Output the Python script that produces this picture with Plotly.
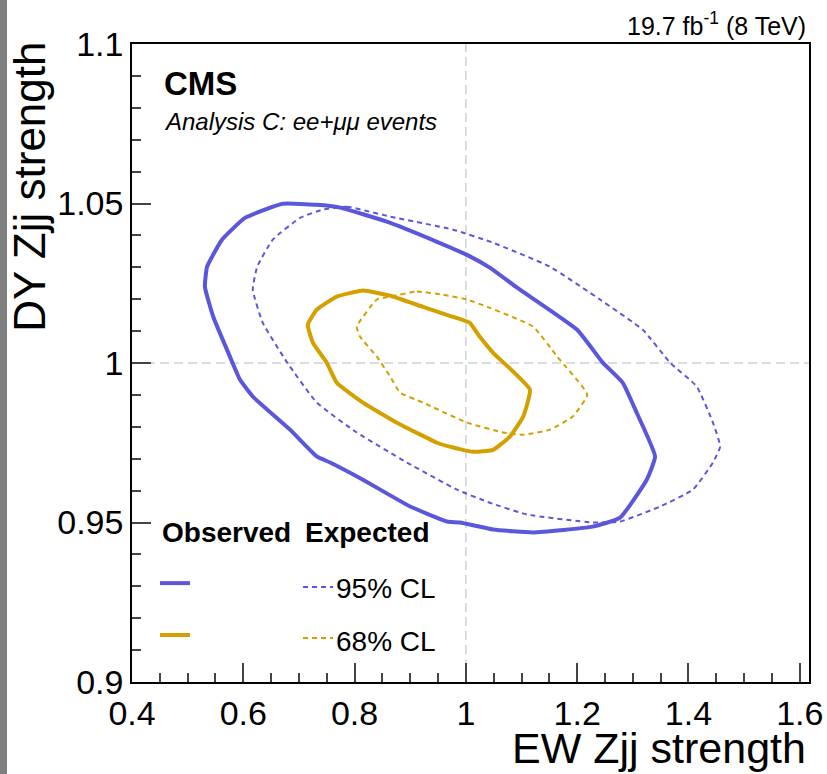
import plotly.graph_objects as go

# Likelihood contours: EW Zjj signal strength (x) vs DY Zjj strength (y)
obs95_x = [0.535, 0.562, 0.603, 0.671, 0.732, 0.774, 0.858, 0.948, 1.002, 1.043, 1.092, 1.200,
           1.246, 1.282, 1.307, 1.340, 1.325, 1.277, 1.228, 1.121, 1.049, 0.989, 0.966, 0.900,
           0.815, 0.756, 0.732, 0.684, 0.617, 0.594, 0.576, 0.546, 0.531]
obs95_y = [1.0302, 1.0387, 1.0455, 1.0499, 1.0496, 1.0487, 1.0443, 1.0380, 1.0339, 1.0299, 1.0236, 1.0104,
           1.0001, 0.9938, 0.9844, 0.9707, 0.9634, 0.9515, 0.9487, 0.9469, 0.9478, 0.9500, 0.9503, 0.9550,
           0.9634, 0.9688, 0.9707, 0.9791, 0.9895, 0.9948, 1.0020, 1.0145, 1.0239]

exp95_x = [0.743, 0.786, 0.864, 0.977, 1.049, 1.151, 1.241, 1.318, 1.367, 1.415, 1.444, 1.457,
           1.444, 1.408, 1.349, 1.277, 1.228, 1.110, 1.043, 0.984, 0.894, 0.804, 0.732, 0.679,
           0.635, 0.617, 0.625, 0.653, 0.702]
exp95_y = [1.0481, 1.0490, 1.0459, 1.0418, 1.0377, 1.0302, 1.0199, 1.0104, 1.0001, 0.9926, 0.9813, 0.9738,
           0.9688, 0.9603, 0.9550, 0.9503, 0.9500, 0.9525, 0.9562, 0.9603, 0.9688, 0.9782, 0.9876, 1.0001,
           1.0126, 1.0230, 1.0302, 1.0387, 1.0455]

obs68_x = [0.815, 0.864, 0.923, 0.971, 1.007, 1.025, 1.049, 1.115, 1.103, 1.079, 1.049, 1.013,
           0.971, 0.948, 0.876, 0.815, 0.768, 0.750, 0.725, 0.716, 0.732, 0.768]
obs68_y = [1.0227, 1.0211, 1.0176, 1.0148, 1.0126, 1.0082, 1.0032, 0.9917, 0.9832, 0.9769, 0.9728, 0.9722,
           0.9738, 0.9750, 0.9813, 0.9876, 0.9938, 1.0001, 1.0064, 1.0120, 1.0167, 1.0208]

exp68_x = [0.864, 0.912, 0.959, 1.002, 1.043, 1.121, 1.164, 1.218, 1.192, 1.151, 1.103, 1.067,
           1.002, 0.923, 0.882, 0.864, 0.840, 0.810, 0.804, 0.840]
exp68_y = [1.0208, 1.0224, 1.0214, 1.0199, 1.0173, 1.0114, 1.0020, 0.9901, 0.9832, 0.9791, 0.9775, 0.9782,
           0.9813, 0.9876, 0.9907, 0.9957, 1.0020, 1.0082, 1.0114, 1.0199]

x_ticks = [0.4, 0.6, 0.8, 1.0, 1.2, 1.4, 1.6]
x_ticktext = ["0.4", "0.6", "0.8", "1", "1.2", "1.4", "1.6"]
y_ticks = [0.9, 0.95, 1.0, 1.05, 1.1]
y_ticktext = ["0.9", "0.95", "1", "1.05", "1.1"]

BLUE = "#5b57dc"
GOLD = "#d4a000"
FONT = "Liberation Sans, Arial, Helvetica, sans-serif"
DOT = "5px,4px"


def closed(v):
    return list(v) + [v[0]]


fig = go.Figure()

contours = [
    (exp95_x, exp95_y, BLUE, 2, DOT),
    (exp68_x, exp68_y, GOLD, 2, DOT),
    (obs95_x, obs95_y, BLUE, 4, "solid"),
    (obs68_x, obs68_y, GOLD, 4, "solid"),
]
for xs, ys, col, w, dash in contours:
    fig.add_trace(go.Scatter(
        x=closed(xs), y=closed(ys), mode="lines",
        line=dict(color=col, width=w, dash=dash, shape="spline", smoothing=0.4),
        showlegend=False, hoverinfo="skip",
    ))

# SM reference lines
ref_line = dict(color="#c9d3d9", width=1.5, dash="9px,5px")
fig.add_shape(type="line", xref="x", yref="paper", x0=1.0, x1=1.0, y0=0, y1=1, line=ref_line, layer="below")
fig.add_shape(type="line", xref="paper", yref="y", x0=0, x1=1, y0=1.0, y1=1.0, line=ref_line, layer="below")

# grey strip on the left edge of the canvas
fig.add_shape(type="rect", xref="paper", yref="paper", x0=-0.2, x1=-0.1846, y0=-0.16, y1=1.08,
              fillcolor="#808080", line=dict(width=0), layer="above")

# legend drawn by hand: header, line samples and labels
annotations = [
    dict(text="<b>Observed</b>", x=0.0414, y=0.235, xanchor="left", yanchor="middle",
         font=dict(size=28, family=FONT, color="black")),
    dict(text="<b>Expected</b>", x=0.2526, y=0.235, xanchor="left", yanchor="middle",
         font=dict(size=28, family=FONT, color="black")),
    dict(text="95% CL", x=0.2985, y=0.146, xanchor="left", yanchor="middle",
         font=dict(size=28, family=FONT, color="black")),
    dict(text="68% CL", x=0.2985, y=0.064, xanchor="left", yanchor="middle",
         font=dict(size=28, family=FONT, color="black")),
    dict(text="<b>CMS</b>", x=0.0443, y=0.938, xanchor="left", yanchor="middle",
         font=dict(size=33, family=FONT, color="black")),
    dict(text="<i>Analysis C: ee+μμ events</i>", x=0.0443, y=0.879, xanchor="left", yanchor="middle",
         font=dict(size=24, family=FONT, color="black")),
    dict(text="19.7 fb<sup>-1</sup> (8 TeV)", x=0.9985, y=1.032, xanchor="right", yanchor="middle",
         font=dict(size=25, family=FONT, color="black")),
    dict(text="EW Zjj strength", x=0.9985, y=-0.104, xanchor="right", yanchor="middle",
         font=dict(size=43, family=FONT, color="black")),
    dict(text="DY Zjj strength", x=-0.1507, y=1.0067, xanchor="center", yanchor="top", textangle=-90,
         font=dict(size=44, family=FONT, color="black")),
]
for a in annotations:
    fig.add_annotation(xref="paper", yref="paper", showarrow=False, **a)

for y0, col, w, dash, x0, x1 in [
    (0.155, BLUE, 4, "solid", 0.0414, 0.0857),
    (0.0737, GOLD, 4, "solid", 0.0414, 0.0857),
    (0.149, BLUE, 2, DOT, 0.2526, 0.2969),
    (0.069, GOLD, 2, DOT, 0.2526, 0.2969),
]:
    fig.add_shape(type="line", xref="paper", yref="paper", x0=x0, x1=x1, y0=y0, y1=y0,
                  line=dict(color=col, width=w, dash=dash))

axis_common = dict(
    showgrid=False, zeroline=False, showline=True, mirror=True, automargin=False,
    linecolor="black", linewidth=1.5, ticks="inside", tickcolor="#444444",
    tickwidth=1.5, tickfont=dict(size=34, family=FONT, color="black"),
)

fig.update_xaxes(range=[0.4, 1.6166], tickvals=x_ticks, ticktext=x_ticktext, ticklen=19,
                 minor=dict(dtick=0.05, tick0=0.4, ticks="inside", ticklen=9, tickcolor="#444444", tickwidth=1.5),
                 **axis_common)
fig.update_yaxes(range=[0.9, 1.1], tickvals=y_ticks, ticktext=y_ticktext, ticklen=19,
                 minor=dict(dtick=0.01, tick0=0.9, ticks="inside", ticklen=9, tickcolor="#444444", tickwidth=1.5),
                 **axis_common)

fig.update_layout(
    width=827, height=774,
    margin=dict(l=132, r=18, t=44, b=92),
    paper_bgcolor="white", plot_bgcolor="white",
    font=dict(family=FONT, color="black"),
    showlegend=False,
)

fig.write_html("out.html")
